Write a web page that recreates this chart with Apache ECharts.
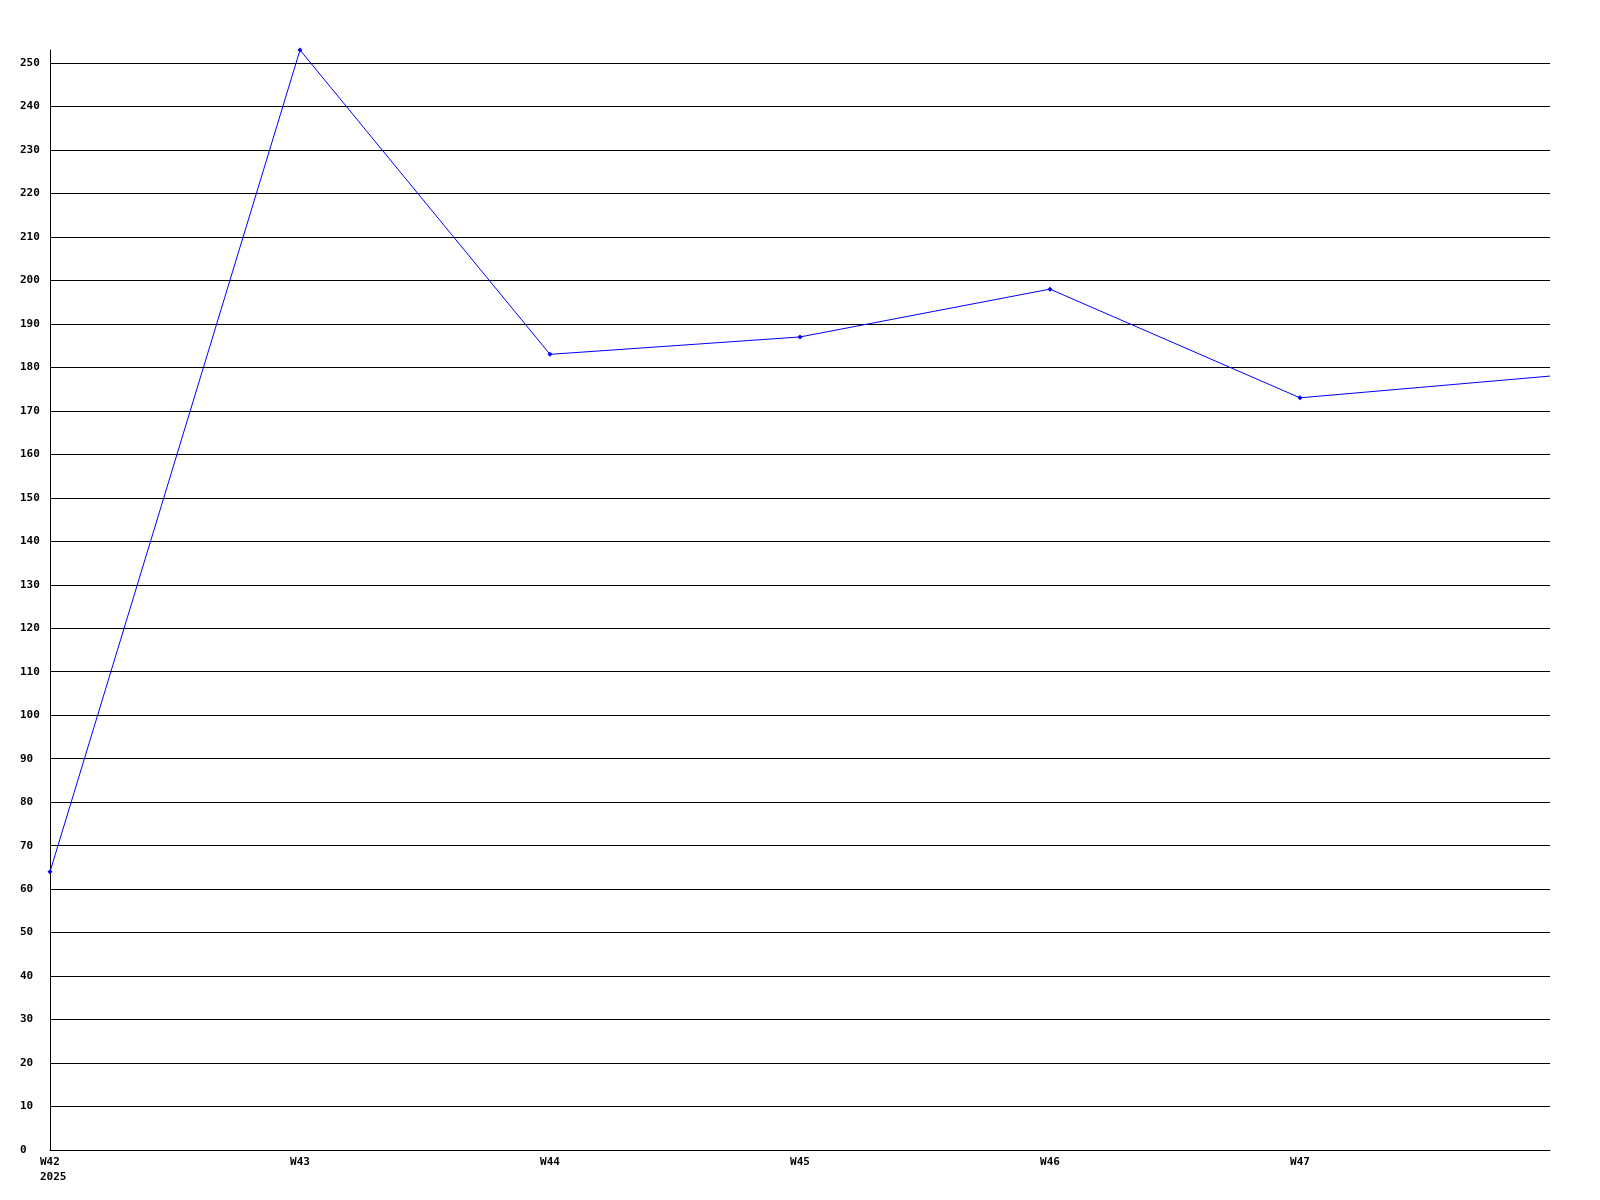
<!DOCTYPE html>
<html>
<head>
<meta charset="utf-8">
<script src="https://cdn.jsdelivr.net/npm/echarts@6/dist/echarts.min.js"></script>
<style>
  html, body { margin: 0; padding: 0; background: #fff; }
  #chart { width: 1600px; height: 1200px; }
</style>
</head>
<body>
<div id="chart"></div>
<script>
// weekly data
var weeks = ['W42', 'W43', 'W44', 'W45', 'W46', 'W47', 'W48']
var year = '2025'
var counts = [64, 253, 183, 187, 198, 173, 178]

var chart = echarts.init(document.getElementById('chart'))

var seriesData = counts.map(function (v, i) {
  // no marker on the last point, line just runs to the edge
  return i === counts.length - 1 ? { value: v, symbol: 'none' } : v
})

chart.setOption({
  animation: false,
  backgroundColor: '#fff',
  textStyle: {
    fontFamily: 'DejaVu Sans Mono',
    fontWeight: 'bold',
    fontSize: 11,
    color: '#000'
  },
  grid: {
    left: 50,
    right: 50,
    top: 50,
    bottom: 50
  },
  xAxis: {
    type: 'category',
    data: weeks,
    boundaryGap: false,
    axisTick: { show: false },
    axisLine: { lineStyle: { color: '#000', width: 1 } },
    splitLine: { show: false },
    axisLabel: {
      interval: 0,
      margin: 5,
      lineHeight: 15,
      fontFamily: 'DejaVu Sans Mono',
      fontWeight: 'bold',
      fontSize: 11,
      color: '#000',
      formatter: function (val, idx) {
        if (idx === weeks.length - 1) return ''
        if (idx === 0) return '{f|' + val + '}\n{f|' + year + '}'
        return val
      },
      rich: {
        // first label: lines left aligned with the week text
        f: {
          width: 20,
          align: 'left',
          lineHeight: 15,
          fontFamily: 'DejaVu Sans Mono',
          fontWeight: 'bold',
          fontSize: 11,
          color: '#000'
        }
      }
    }
  },
  yAxis: {
    type: 'value',
    min: 0,
    max: 253,
    interval: 10,
    axisLine: { show: true, lineStyle: { color: '#000', width: 1 } },
    axisTick: { show: false },
    splitLine: {
      show: true,
      showMaxLine: false, // no line at the 253 top
      lineStyle: { color: '#000', width: 1 }
    },
    axisLabel: {
      align: 'left',
      margin: 30,
      showMaxLabel: false,
      fontFamily: 'DejaVu Sans Mono',
      fontWeight: 'bold',
      fontSize: 11,
      color: '#000'
    }
  },
  series: [
    {
      type: 'line',
      data: seriesData,
      symbol: 'diamond',
      symbolSize: 5,
      showAllSymbol: true,
      lineStyle: { color: '#0000ff', width: 1 },
      itemStyle: { color: '#0000ff' }
    }
  ]
})
</script>
</body>
</html>
